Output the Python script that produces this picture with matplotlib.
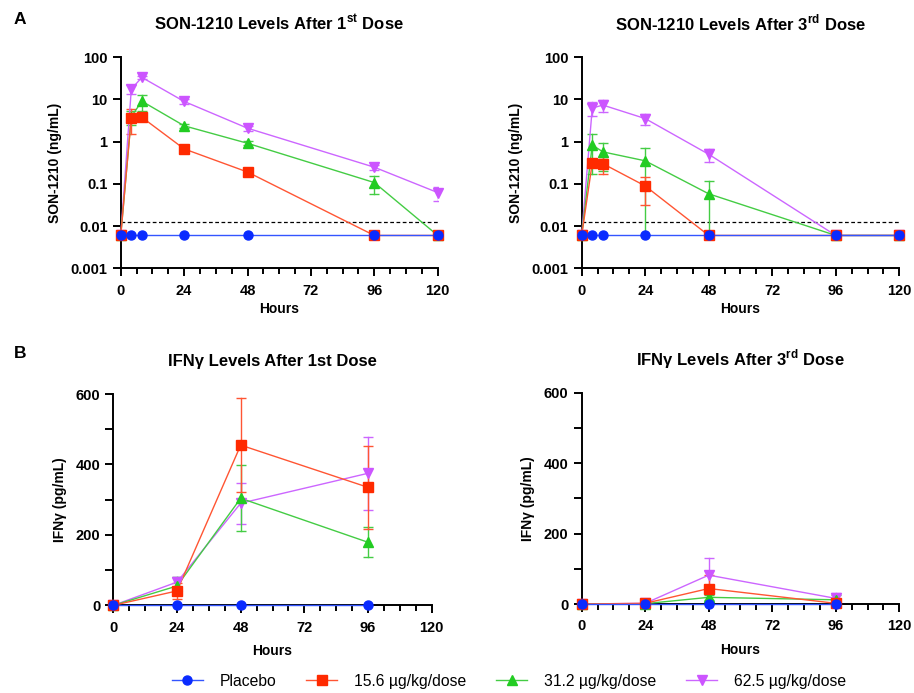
import matplotlib
matplotlib.use("Agg")
import matplotlib.pyplot as plt
import numpy as np
from matplotlib.ticker import FixedLocator, MultipleLocator, NullLocator
from matplotlib.lines import Line2D

plt.rcParams['font.family'] = ['Liberation Sans', 'DejaVu Sans']
plt.rcParams['mathtext.fontset'] = 'custom'
plt.rcParams['mathtext.rm'] = 'Liberation Sans:bold'
plt.rcParams['mathtext.bf'] = 'Liberation Sans:bold'

# ---------------- data ----------------
pk_hours = [0, 4, 8, 24, 48, 96, 120]
ifn_hours = [0, 24, 48, 96]
lloq = 0.0125
pk_floor = 0.006  # LLOQ/2 imputed value

series_names = ["Placebo", "15.6 µg/kg/dose", "31.2 µg/kg/dose", "62.5 µg/kg/dose"]

# SON-1210 after 1st dose (ng/mL): mean, SD
pk1_placebo = [0.006, 0.006, 0.006, 0.006, 0.006, 0.006, 0.006]
pk1_placebo_sd = [0, 0, 0, 0, 0, 0, 0]
pk1_low = [0.006, 3.7, 3.75, 0.67, 0.19, 0.006, 0.006]
pk1_low_sd = [0, 2.2, 0.5, 0.05, 0.02, 0, 0]
pk1_mid = [0.006, 3.9, 9.0, 2.36, 0.91, 0.107, 0.006]
pk1_mid_sd = [0, 1.45, 3.6, 0.3, 0.1, 0.05, 0]
pk1_high = [0.006, 17.4, 33.0, 8.9, 2.07, 0.247, 0.062]
pk1_high_sd = [0, 4.0, 3.0, 1.0, 0.3, 0.03, 0.022]

# SON-1210 after 3rd dose (ng/mL)
pk3_placebo = [0.006, 0.006, 0.006, 0.006, 0.006, 0.006, 0.006]
pk3_placebo_sd = [0, 0, 0, 0, 0, 0, 0]
pk3_low = [0.006, 0.31, 0.30, 0.089, 0.006, 0.006, 0.006]
pk3_low_sd = [0, 0.05, 0.13, 0.057, 0, 0, 0]
pk3_mid = [0.006, 0.83, 0.57, 0.35, 0.058, 0.006, 0.006]
pk3_mid_sd = [0, 0.66, 0.37, 0.36, 0.06, 0, 0]
pk3_high = [0.006, 6.2, 7.3, 3.5, 0.5, 0.006, 0.006]
pk3_high_sd = [0, 2.2, 2.3, 1.1, 0.18, 0, 0]

# IFN-gamma after 1st dose (pg/mL)
ifn1_placebo = [0, 0, 0, 0]
ifn1_placebo_sd = [0, 0, 0, 0]
ifn1_low = [0, 41, 455, 335]
ifn1_low_sd = [0, 22, 133, 118]
ifn1_mid = [0, 55, 304, 179]
ifn1_mid_sd = [0, 26, 94, 43]
ifn1_high = [0, 66, 290, 375]
ifn1_high_sd = [0, 15, 58, 104]

# IFN-gamma after 3rd dose (pg/mL)
ifn3_placebo = [0, 0, 0, 0]
ifn3_placebo_sd = [0, 0, 0, 0]
ifn3_low = [0, 2, 44, 2]
ifn3_low_sd = [0, 1, 38, 1]
ifn3_mid = [0, 1, 19, 12]
ifn3_mid_sd = [0, 0, 8, 14]
ifn3_high = [0, 2, 82, 16]
ifn3_high_sd = [0, 1, 48, 16]

# ---------------- style ----------------
colors = ["#0a2bff", "#ff2a00", "#22cc22", "#cc55ff"]
line_colors = ["#3355ff", "#ff5533", "#44cc44", "#cc66ff"]
markers = ["o", "s", "^", "v"]
msizes = [6.5, 7, 7, 7]
order = [3, 2, 1, 0]  # back to front: purple, green, red, blue

fig = plt.figure(figsize=(9.14, 6.93), dpi=100)

ax_tl = fig.add_axes([0.1321, 0.6128, 0.3468, 0.3049])
ax_tr = fig.add_axes([0.6364, 0.6128, 0.3475, 0.3049])
ax_bl = fig.add_axes([0.1240, 0.1265, 0.3484, 0.3049])
ax_br = fig.add_axes([0.6364, 0.1284, 0.3475, 0.3049])


def style_axes(ax, xlabelpad):
    for s in ["top", "right"]:
        ax.spines[s].set_visible(False)
    for s in ["left", "bottom"]:
        ax.spines[s].set_linewidth(1.4)
    ax.tick_params(axis="both", which="major", direction="out", length=6, width=1.4,
                   labelsize=10.5)
    ax.tick_params(axis="x", which="major", pad=5)
    ax.tick_params(axis="x", which="minor", direction="out", length=4, width=1.4)
    ax.tick_params(axis="y", which="minor", length=0)
    ax.set_xlim(0, 120)
    ax.xaxis.set_major_locator(FixedLocator([0, 24, 48, 72, 96, 120]))
    ax.xaxis.set_minor_locator(MultipleLocator(6))
    ax.set_xlabel("Hours", fontsize=10, fontweight="bold", labelpad=xlabelpad)


def draw_series(ax, hours, means, sds, log):
    for rank, i in enumerate(order):
        z = rank * 0.1
        m = np.array(means[i], dtype=float)
        s = np.array(sds[i], dtype=float)
        h = np.array(hours, dtype=float)
        if log:
            lo = np.where(m - s > pk_floor, m - s, pk_floor)
        else:
            lo = m - s
        hi = m + s
        for xx, a, b, sd in zip(h, lo, hi, s):
            if sd <= 0:
                continue
            ax.plot([xx, xx], [a, b], color=line_colors[i], lw=1.0, zorder=2 + z,
                    clip_on=True)
            for yy in (a, b):
                ax.plot([xx], [yy], marker="_", markersize=7, markeredgewidth=1.0,
                        color=line_colors[i], zorder=2 + z, clip_on=True)
        ax.plot(h, m, color=line_colors[i], lw=1.0, zorder=3 + z, clip_on=False)
        ax.plot(h, m, linestyle="none", marker=markers[i],
                markersize=msizes[i], color=colors[i], markeredgecolor=colors[i],
                zorder=4 + z, clip_on=False)


# --- PK panels ---
pk_sets = [
    (ax_tl, [pk1_placebo, pk1_low, pk1_mid, pk1_high],
     [pk1_placebo_sd, pk1_low_sd, pk1_mid_sd, pk1_high_sd],
     r"SON-1210 Levels After 1$^{\mathbf{st}}$ Dose"),
    (ax_tr, [pk3_placebo, pk3_low, pk3_mid, pk3_high],
     [pk3_placebo_sd, pk3_low_sd, pk3_mid_sd, pk3_high_sd],
     r"SON-1210 Levels After 3$^{\mathbf{rd}}$ Dose"),
]
for ax, means, sds, title in pk_sets:
    ax.set_yscale("log")
    ax.set_ylim(0.001, 100)
    style_axes(ax, 3)
    ax.yaxis.set_major_locator(FixedLocator([0.001, 0.01, 0.1, 1, 10, 100]))
    ax.yaxis.set_minor_locator(NullLocator())
    ax.set_yticklabels(["0.001", "0.01", "0.1", "1", "10", "100"], fontweight="bold",
                       fontsize=10.5)
    ax.set_xticklabels(["0", "24", "48", "72", "96", "120"], fontweight="bold",
                       fontsize=10.5)
    ax.axhline(lloq, xmin=0, xmax=1, color="black", lw=0.9, ls=(0, (3, 2)), zorder=1)
    draw_series(ax, pk_hours, means, sds, log=True)
    ax.set_ylabel("SON-1210 (ng/mL)", fontsize=10, fontweight="bold", labelpad=6)
    ax.set_title(title, fontsize=12, fontweight="bold", pad=19)

# --- IFN panels ---
ifn_sets = [
    (ax_bl, [ifn1_placebo, ifn1_low, ifn1_mid, ifn1_high],
     [ifn1_placebo_sd, ifn1_low_sd, ifn1_mid_sd, ifn1_high_sd],
     "IFNγ Levels After 1st Dose"),
    (ax_br, [ifn3_placebo, ifn3_low, ifn3_mid, ifn3_high],
     [ifn3_placebo_sd, ifn3_low_sd, ifn3_mid_sd, ifn3_high_sd],
     r"IFNγ Levels After 3$^{\mathbf{rd}}$ Dose"),
]
for ax, means, sds, title in ifn_sets:
    ax.set_ylim(0, 600)
    style_axes(ax, 7)
    ax.yaxis.set_major_locator(FixedLocator([0, 200, 400, 600]))
    ax.yaxis.set_minor_locator(FixedLocator([100, 300, 500]))
    ax.tick_params(axis="y", which="minor", length=6, width=1.4)
    ax.set_yticklabels(["0", "200", "400", "600"], fontweight="bold", fontsize=10.5)
    ax.set_xticklabels(["0", "24", "48", "72", "96", "120"], fontweight="bold",
                       fontsize=10.5)
    draw_series(ax, ifn_hours, means, sds, log=False)
    ax.set_ylabel("IFNγ (pg/mL)", fontsize=10, fontweight="bold", labelpad=6)
    ax.set_title(title, fontsize=12, fontweight="bold", pad=20)

# panel letters
fig.text(14 / 914, 1 - 19 / 693, "A", fontsize=12.5, fontweight="bold", va="center")
fig.text(14 / 914, 1 - 353 / 693, "B", fontsize=12.5, fontweight="bold", va="center")

# legend
handles = [Line2D([0], [0], color=line_colors[i], lw=1.0, marker=markers[i],
                  markersize=msizes[i], markerfacecolor=colors[i],
                  markeredgecolor=colors[i]) for i in range(4)]
fig.legend(handles, series_names, loc="center", bbox_to_anchor=(0.557, 0.017),
           ncol=4, frameon=False, fontsize=11.3, handlelength=1.95,
           columnspacing=1.9, handletextpad=1.1)

fig.savefig("out.png", dpi=100)
